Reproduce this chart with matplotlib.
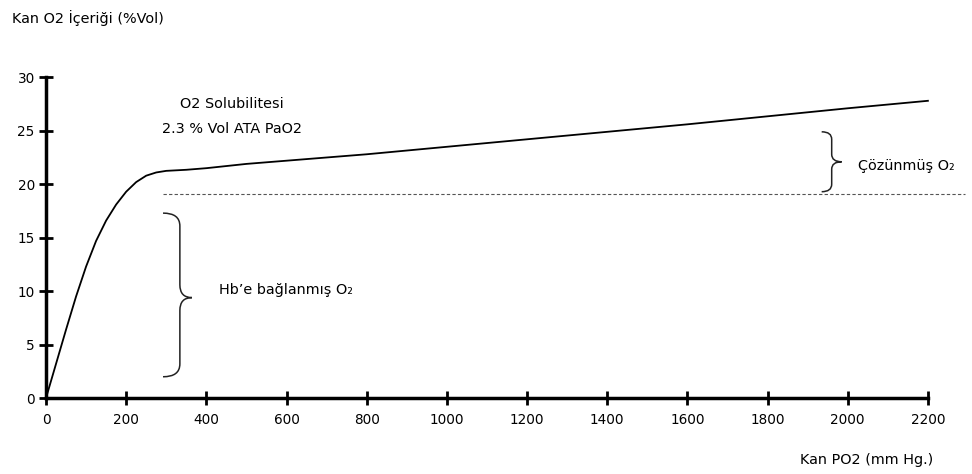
import matplotlib.pyplot as plt
from matplotlib.path import Path
from matplotlib.patches import PathPatch

# kan PO2 (mm Hg) ve O2 içeriği (%Vol)
po2 = [0, 25, 50, 75, 100, 125, 150, 175, 200, 225, 250, 275, 300, 350,
       400, 450, 500, 600, 800, 1000, 1200, 1600, 2000, 2200]
o2 = [0, 3.2, 6.4, 9.5, 12.3, 14.7, 16.6, 18.1, 19.3, 20.2, 20.8, 21.1,
      21.25, 21.35, 21.5, 21.7, 21.9, 22.2, 22.8, 23.5, 24.2, 25.6, 27.1, 27.8]

hb_limit = 19.1
x_ticks = list(range(0, 2201, 200))
y_ticks = list(range(0, 31, 5))

fig = plt.figure(figsize=(9.72, 4.74), dpi=100)
ax = fig.add_axes([0.0473, 0.160, 0.9527, 0.677])

ax.plot(po2, o2, color='black', lw=1.3)
ax.plot([292, 2292], [hb_limit, hb_limit], color='#555555', lw=0.8,
        linestyle=(0, (3, 2)))


def brace(ax, x0, xb, x1, y0, y1, ym, r):
    # sağa bakan süslü parantez: uçlar x0, gövde xb, sivri uç x1
    verts = [(x0, y1),
             (xb, y1), (xb, y1 - r),
             (xb, ym + r),
             (xb, ym), (x1, ym),
             (xb, ym), (xb, ym - r),
             (xb, y0 + r),
             (xb, y0), (x0, y0)]
    codes = [Path.MOVETO,
             Path.CURVE3, Path.CURVE3,
             Path.LINETO,
             Path.CURVE3, Path.CURVE3,
             Path.CURVE3, Path.CURVE3,
             Path.LINETO,
             Path.CURVE3, Path.CURVE3]
    ax.add_patch(PathPatch(Path(verts, codes), fill=False, lw=1.1,
                           edgecolor='#222222'))


brace(ax, 292, 334, 364, 2.0, 17.3, 9.4, 1.2)
brace(ax, 1935, 1960, 1985, 19.3, 24.9, 22.1, 0.7)

fs = 10.4
ax.text(464, 27.5, 'O2 Solubilitesi', ha='center', va='center', fontsize=fs)
ax.text(464, 25.2, '2.3 % Vol ATA PaO2', ha='center', va='center', fontsize=fs)
ax.text(432, 10.1, 'Hb\u2019e bağlanmış O\u2082', ha='left', va='center', fontsize=fs)
ax.text(2025, 21.7, 'Çözünmüş O\u2082', ha='left', va='center', fontsize=fs)

ax.set_xlim(0, 2310)
ax.set_ylim(0, 30)
ax.set_xticks(x_ticks)
ax.set_yticks(y_ticks)
ax.spines['top'].set_visible(False)
ax.spines['right'].set_visible(False)
ax.spines['bottom'].set_bounds(0, 2200)
ax.spines['left'].set_bounds(0, 30)
for s in ['left', 'bottom']:
    ax.spines[s].set_linewidth(2.5)
ax.tick_params(direction='inout', length=10, width=2, labelsize=9.8)
ax.tick_params(axis='x', pad=6)
ax.tick_params(axis='y', pad=3)

fig.text(0.012, 0.962, 'Kan O2 İçeriği (%Vol)', fontsize=fs, ha='left', va='center')
fig.text(0.96, 0.03, 'Kan PO2 (mm Hg.)', fontsize=fs, ha='right', va='center')

plt.savefig('out.png')
